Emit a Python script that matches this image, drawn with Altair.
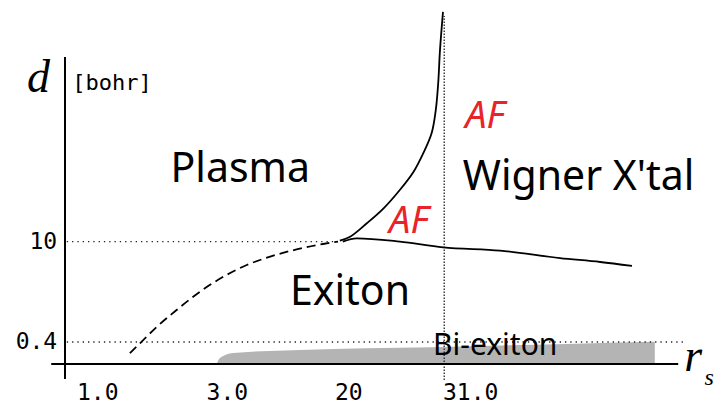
import altair as alt
import pandas as pd

# ---------------- data (schematic position units: x 0-100, y 0-120) ----------------
# tick labels
rs_tick_pos = [2.0, 23.6, 45.0, 63.0]
rs_tick_labels = ["1.0", "3.0", "20", "31.0"]
d_tick_pos = [7.33, 40.77]
d_tick_labels = ["0.4", "10"]

# plasma / exciton crossover (dashed)
crossover_x = [10.8, 12.5, 15.3, 18.6, 22.5, 26.4, 30.3, 34.2, 38.6, 43.0, 45.5]
crossover_y = [3.6, 6.9, 12.4, 18.0, 24.1, 29.1, 33.0, 35.8, 38.2, 40.0, 40.8]

# plasma / AF boundary
af_plasma_x = [45.8, 47.5, 50.3, 53.1, 55.8, 58.1, 59.7, 61.1, 61.8, 62.2, 62.5, 63.0]
af_plasma_y = [41.1, 42.4, 46.9, 51.9, 58.0, 64.1, 70.2, 76.9, 84.7, 93.6, 104.7, 117.4]

# exciton / Wigner boundary
exciton_wigner_x = [46.3, 48.6, 55.8, 63.0, 72.5, 82.5, 89.2, 94.5]
exciton_wigner_y = [40.8, 41.9, 40.8, 38.9, 37.8, 35.3, 34.0, 32.7]

# bi-exciton region (upper edge)
biexciton_x = [25.3, 25.8, 28.0, 39.2, 61.3, 83.6, 98.3]
biexciton_y = [0.0, 2.0, 3.7, 4.7, 5.6, 6.7, 7.4]

# dotted reference lines
d_ref_levels = [7.33, 40.77]
d_ref_x_end = [103.0, 45.5]
rs_ref_level = 63.2

# region labels
region_names = ["Plasma", "Exiton", "Wigner X'tal"]
region_x = [29.2, 47.5, 85.6]
region_y = [60.8, 19.7, 58.0]
af_x = [70.0, 57.3]
af_y = [78.7, 43.7]
bi_label = "Bi-exiton"
bi_x, bi_y = 71.7, 3.0

# ---------------- chart ----------------
xs = alt.Scale(domain=[0, 100], nice=False, zero=False)
ys = alt.Scale(domain=[0, 120], nice=False, zero=False)


def X(f="x"):
    return alt.X(f"{f}:Q", scale=xs, axis=None)


def Y(f="y"):
    return alt.Y(f"{f}:Q", scale=ys, axis=None)


def line_df(xv, yv):
    return pd.DataFrame({"x": xv, "y": yv, "i": list(range(len(xv)))})


bi_area = alt.Chart(pd.DataFrame({"x": biexciton_x, "y": biexciton_y, "y0": [0] * len(biexciton_x)})).mark_area(
    color="#b4b4b4", interpolate="monotone"
).encode(x=X(), y=Y(), y2=alt.Y2("y0:Q"))

axes_df = pd.DataFrame({"x": [-2.3, 0.0], "x2": [102.2, 0.0], "y": [0.0, -5.0], "y2": [0.0, 102.3]})
axes = alt.Chart(axes_df).mark_rule(color="black", strokeWidth=2).encode(
    x=X(), x2=alt.X2("x2:Q"), y=Y(), y2=alt.Y2("y2:Q")
)

href_df = pd.DataFrame({"x": [0.3, 0.3], "x2": d_ref_x_end, "y": d_ref_levels})
href = alt.Chart(href_df).mark_rule(color="#222222", strokeWidth=1.3, strokeDash=[1.3, 4]).encode(
    x=X(), x2=alt.X2("x2:Q"), y=Y()
)
vref_df = pd.DataFrame({"x": [rs_ref_level], "y": [-5.3], "y2": [116.0]})
vref = alt.Chart(vref_df).mark_rule(color="#222222", strokeWidth=1.3, strokeDash=[1.3, 1.7]).encode(
    x=X(), y=Y(), y2=alt.Y2("y2:Q")
)

dashed = alt.Chart(line_df(crossover_x, crossover_y)).mark_line(
    color="black", strokeWidth=1.8, strokeDash=[9, 5], interpolate="monotone"
).encode(x=X(), y=Y(), order="i:Q")
curve1 = alt.Chart(line_df(af_plasma_x, af_plasma_y)).mark_line(
    color="black", strokeWidth=1.8, interpolate="catmull-rom"
).encode(x=X(), y=Y(), order="i:Q")
curve2 = alt.Chart(line_df(exciton_wigner_x, exciton_wigner_y)).mark_line(
    color="black", strokeWidth=1.8, interpolate="monotone"
).encode(x=X(), y=Y(), order="i:Q")

xt = alt.Chart(pd.DataFrame({"x": rs_tick_pos, "t": rs_tick_labels, "y": [-11.9] * 4})).mark_text(
    align="left", baseline="alphabetic", font="DejaVu Sans Mono", fontSize=23, color="black"
).encode(x=X(), y=Y(), text="t:N")
yt = alt.Chart(pd.DataFrame({"y": d_tick_pos, "t": d_tick_labels, "x": [-1.3] * 2})).mark_text(
    align="right", baseline="middle", font="DejaVu Sans Mono", fontSize=23, color="black"
).encode(x=X(), y=Y(), text="t:N")

serif_df = pd.DataFrame({"x": [-4.4, 104.7], "y": [90.7, -2.3], "t": ["d", "r"]})
serif = alt.Chart(serif_df).mark_text(
    align="center", baseline="alphabetic", font="Liberation Serif", fontStyle="italic", fontSize=46, color="black"
).encode(x=X(), y=Y(), text="t:N")
sub = alt.Chart(pd.DataFrame({"x": [106.6], "y": [-7.0], "t": ["s"]})).mark_text(
    align="left", baseline="alphabetic", font="Liberation Serif", fontStyle="italic", fontSize=24, color="black"
).encode(x=X(), y=Y(), text="t:N")
unit = alt.Chart(pd.DataFrame({"x": [1.2], "y": [91.3], "t": ["[bohr]"]})).mark_text(
    align="left", baseline="alphabetic", font="DejaVu Sans Mono", fontSize=22, color="black"
).encode(x=X(), y=Y(), text="t:N")

regions = alt.Chart(pd.DataFrame({"x": region_x, "y": region_y, "t": region_names})).mark_text(
    align="center", baseline="alphabetic", font="Comic Sans MS, Noto Sans", fontSize=41, color="black"
).encode(x=X(), y=Y(), text="t:N")
af = alt.Chart(pd.DataFrame({"x": af_x, "y": af_y, "t": ["AF", "AF"]})).mark_text(
    align="center", baseline="alphabetic", font="Comic Sans MS, Noto Sans", fontStyle="italic", fontSize=38,
    color="#e8232a"
).encode(x=X(), y=Y(), text="t:N")
bi = alt.Chart(pd.DataFrame({"x": [bi_x], "y": [bi_y], "t": [bi_label]})).mark_text(
    align="center", baseline="alphabetic", font="Comic Sans MS, Noto Sans", fontSize=30, color="black"
).encode(x=X(), y=Y(), text="t:N")

chart = alt.layer(
    bi_area, href, vref, axes, dashed, curve1, curve2, xt, yt, serif, sub, unit, regions, af, bi
).properties(
    width=600,
    height=360,
    autosize=alt.AutoSizeParams(type="none"),
    padding={"left": 65, "top": 4, "right": 50, "bottom": 42},
    background="white",
).configure_view(stroke=None)

chart.save("out.html", embed_options={"renderer": "svg", "actions": False})
